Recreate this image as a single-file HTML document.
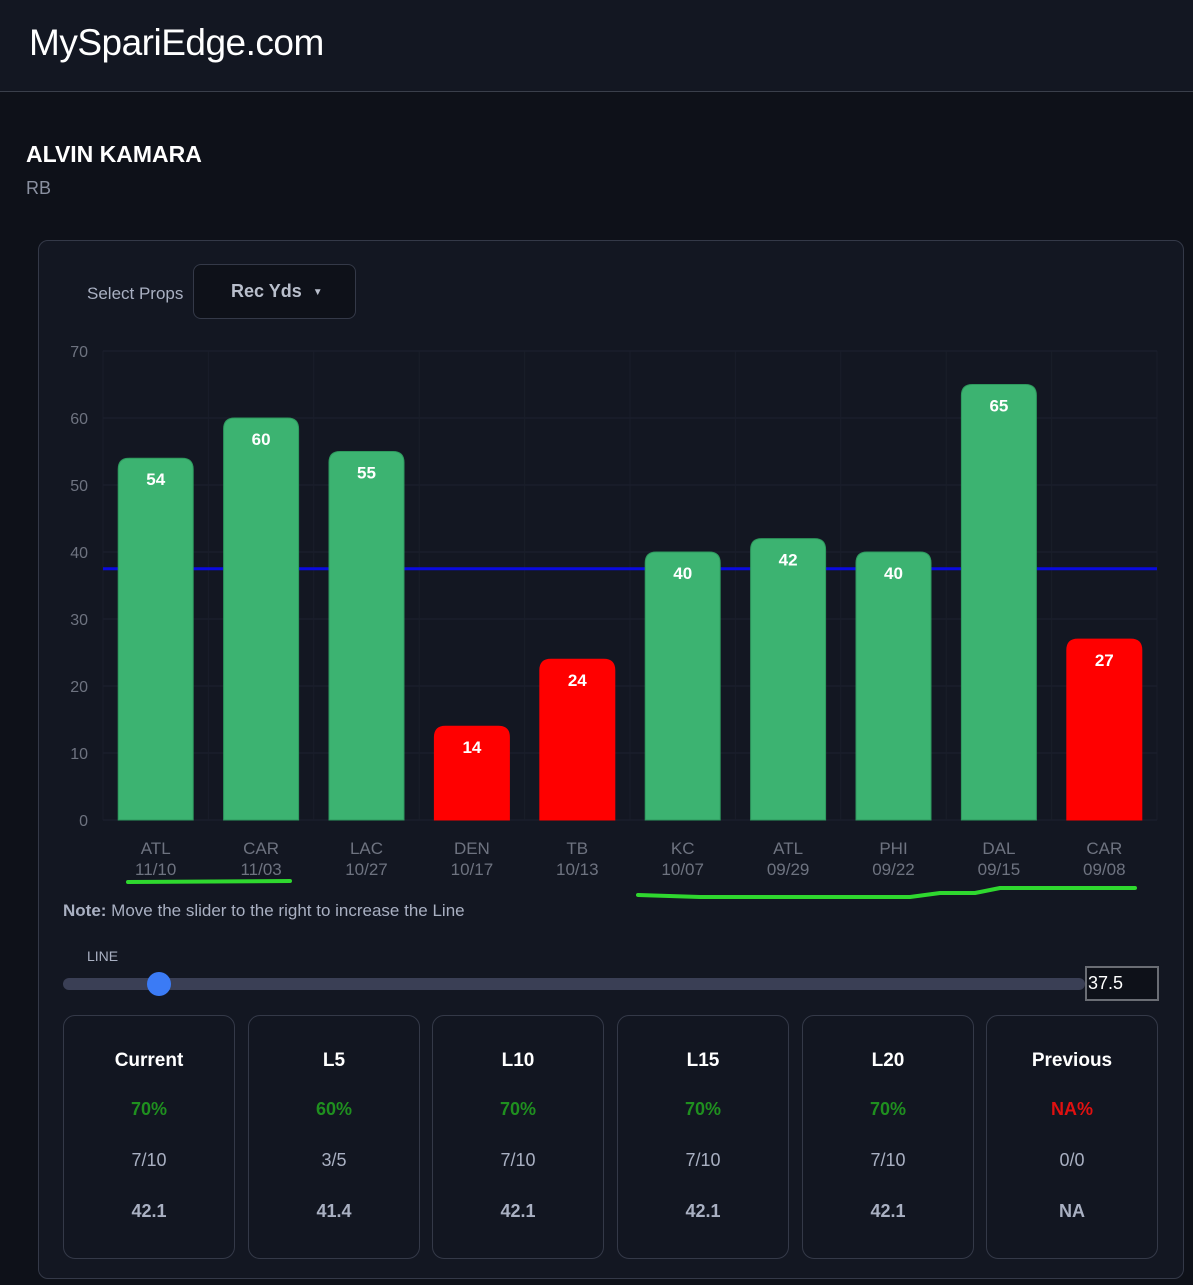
<!DOCTYPE html>
<html><head><meta charset="utf-8"><style>
*{box-sizing:border-box;margin:0;padding:0}
body{width:1193px;height:1285px;background:#0e1119;font-family:"Liberation Sans",sans-serif;position:relative;overflow:hidden;color:#fff}
.abs{position:absolute}
.card{position:absolute;top:1015px;width:172px;height:244px;border:1px solid #343948;border-radius:12px;background:#121621;text-align:center}
.card .t{position:absolute;top:34px;width:100%;font-weight:bold;font-size:19px;color:#fff}
.card .p{position:absolute;top:83px;width:100%;font-weight:bold;font-size:18px;color:#1f8f1f}
.card .f{position:absolute;top:134px;width:100%;font-size:18px;color:#a9b0c2}
.card .a{position:absolute;top:185px;width:100%;font-weight:bold;font-size:18px;color:#a9b0c2}
</style></head><body>
<div class="abs" style="left:0;top:0;width:1193px;height:92px;background:#131722;border-bottom:1px solid #3a3f4b"></div>
<div class="abs" style="left:29px;top:22px;font-size:37px;color:#fff;letter-spacing:-0.5px">MySpariEdge.com</div>
<div class="abs" style="left:26px;top:141px;font-size:23px;font-weight:bold;color:#fff">ALVIN KAMARA</div>
<div class="abs" style="left:26px;top:178px;font-size:18px;color:#8a90a0">RB</div>
<div class="abs" style="left:38px;top:240px;width:1146px;height:1039px;border:1px solid #343948;border-radius:10px;background:#131722"></div>
<div class="abs" style="left:87px;top:284px;font-size:17px;color:#a9b0c2">Select Props</div>
<div class="abs" style="left:193px;top:264px;width:163px;height:55px;border:1px solid #343948;border-radius:8px;background:#0e1119;color:#b9bfcc;font-weight:bold;font-size:18px;line-height:53px;padding-left:37px">Rec Yds <span style="font-size:10px;vertical-align:middle;margin-left:6px">▼</span></div>
<svg class="abs" id="chart" style="left:0;top:0" width="1193" height="1285"></svg>
<div class="abs" style="left:63px;top:901px;font-size:17px;color:#a9b0c2"><b>Note:</b> Move the slider to the right to increase the Line</div>
<div class="abs" style="left:87px;top:948px;font-size:14px;color:#a9b0c2">LINE</div>
<div class="abs" style="left:63px;top:978px;width:1022px;height:12px;border-radius:6px;background:#3a3f55"></div>
<div class="abs" style="left:147px;top:972px;width:24px;height:24px;border-radius:50%;background:#3b7bf5"></div>
<div class="abs" style="left:1085px;top:966px;width:74px;height:35px;border:2px solid #6a6d74;background:#0e1119;color:#fff;font-size:18px;line-height:31px;padding-left:1px">37.5</div>
<div class="card" style="left:63px"><div class="t">Current</div><div class="p">70%</div><div class="f">7/10</div><div class="a">42.1</div></div>
<div class="card" style="left:248px"><div class="t">L5</div><div class="p">60%</div><div class="f">3/5</div><div class="a">41.4</div></div>
<div class="card" style="left:432px"><div class="t">L10</div><div class="p">70%</div><div class="f">7/10</div><div class="a">42.1</div></div>
<div class="card" style="left:617px"><div class="t">L15</div><div class="p">70%</div><div class="f">7/10</div><div class="a">42.1</div></div>
<div class="card" style="left:802px"><div class="t">L20</div><div class="p">70%</div><div class="f">7/10</div><div class="a">42.1</div></div>
<div class="card" style="left:986px"><div class="t">Previous</div><div class="p" style="color:#e01010">NA%</div><div class="f">0/0</div><div class="a">NA</div></div>
<script>
const teams=["ATL","CAR","LAC","DEN","TB","KC","ATL","PHI","DAL","CAR"];
const dates=["11/10","11/03","10/27","10/17","10/13","10/07","09/29","09/22","09/15","09/08"];
const values=[54,60,55,14,24,40,42,40,65,27];
const yTicks=[0,10,20,30,40,50,60,70];
const lineValue=37.5;
const NS="http://www.w3.org/2000/svg",svg=document.getElementById('chart');
const x0=103,x1=1157,y0=820,y1=351,ymax=70;
const bw=(x1-x0)/teams.length;
const y=v=>y0-(v/ymax)*(y0-y1);
const xc=i=>x0+bw*(i+0.5);
function mk(t,a){const e=document.createElementNS(NS,t);for(const k in a)e.setAttribute(k,a[k]);svg.appendChild(e);return e;}
yTicks.forEach(t=>{const g=mk('line',{x1:x0,x2:x1,y1:y(t),y2:y(t),stroke:'#1e2230','stroke-width':1});

const l=mk('text',{x:88,y:y(t)+6,'text-anchor':'end','font-size':16,fill:'#6e7380','font-family':'Liberation Sans'});l.textContent=t;
});
for(let i=0;i<=teams.length;i++){const g=mk('line',{x1:x0+bw*i,x2:x0+bw*i,y1:y1,y2:y0,stroke:'#1a1e2a','stroke-width':1});
}
const ln=mk('line',{x1:x0,x2:x1,y1:y(lineValue),y2:y(lineValue),stroke:'#0a0ae0','stroke-width':3});

values.forEach((v,i)=>{const w=75,r=11,cx=xc(i),l=cx-w/2,top=y(v);
const col=v>lineValue?'#3cb371':'#ff0000';
const p=mk('path',{d:`M${l},${y0}V${top+r}Q${l},${top} ${l+r},${top}H${l+w-r}Q${l+w},${top} ${l+w},${top+r}V${y0}Z`,fill:col,stroke:v>lineValue?'#2e9a5e':'#ff0000','stroke-width':1});

const t=mk('text',{x:cx,y:top+27,'text-anchor':'middle','font-size':17,'font-weight':'bold',fill:'#fff','font-family':'Liberation Sans'});t.textContent=v;

const a=mk('text',{x:cx,y:854,'text-anchor':'middle','font-size':17,fill:'#6e7380','font-family':'Liberation Sans'});a.textContent=teams[i];

const d=mk('text',{x:cx,y:875,'text-anchor':'middle','font-size':17,fill:'#6e7380','font-family':'Liberation Sans'});d.textContent=dates[i];
});
const u1=mk('path',{d:'M128,882 L290,881',stroke:'#2fd82f','stroke-width':4,fill:'none','stroke-linecap':'round'});

const u2=mk('path',{d:'M638,895 L700,897 L775,897 L910,897 L940,893 L975,893 L1000,888 L1135,888',stroke:'#2fd82f','stroke-width':4,fill:'none','stroke-linecap':'round','stroke-linejoin':'round'});

</script>
</body></html>
